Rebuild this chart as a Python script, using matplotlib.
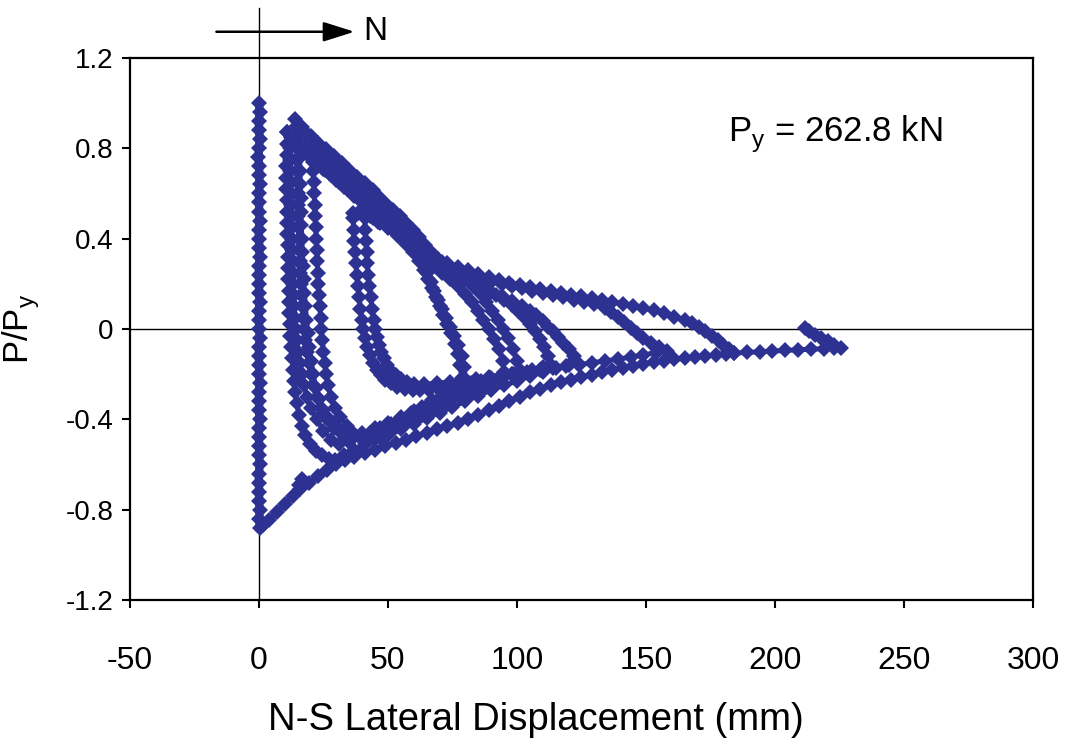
import matplotlib

matplotlib.use("Agg")
import matplotlib.pyplot as plt
from matplotlib import font_manager

# ---- data (displacement in mm, load as P/Py) ----

# elastic column at zero displacement
column_x = [0.0, 0.2, -0.1, 0.1, 0.2, 0.0, -0.2, 0.1, 0.0, 0.2, -0.1, 0.1, 0.0, 0.2, -0.1, 0.0,
            0.1, 0.2, 0.0, -0.1, 0.1, 0.0, 0.2, -0.1, 0.0, 0.1, 0.2, 0.0, -0.1, 0.1, 0.0, 0.2,
            -0.1, 0.1, 0.0, 0.2, 0.0, -0.1, 0.1, 0.0, 0.2, 0.0, -0.1, 0.1, 0.0, 0.2, 0.1, 0.3]
column_y = [1.00, 0.96, 0.92, 0.88, 0.84, 0.80, 0.76, 0.72, 0.68, 0.64, 0.60, 0.56, 0.52, 0.48,
            0.44, 0.40, 0.36, 0.32, 0.28, 0.24, 0.20, 0.16, 0.12, 0.08, 0.04, 0.00, -0.04, -0.08,
            -0.12, -0.16, -0.20, -0.24, -0.28, -0.32, -0.36, -0.40, -0.44, -0.48, -0.52, -0.56,
            -0.60, -0.64, -0.68, -0.72, -0.76, -0.80, -0.84, -0.88]

# first compression (buckling) envelope
lower_env_x = [1.5, 4, 7, 10, 13, 16, 19.5, 23, 26.5, 30, 33.5, 37, 41, 45, 49, 53, 57, 61, 65,
               69, 73, 77, 81, 85, 89, 93, 97, 101, 105, 109, 113, 117, 121, 125, 129, 133, 137,
               141, 145, 149, 153, 157, 161, 165, 169, 173, 177, 181, 184]
lower_env_y = [-0.87, -0.845, -0.81, -0.775, -0.74, -0.71, -0.68, -0.65, -0.625, -0.60, -0.58,
               -0.565, -0.55, -0.535, -0.52, -0.505, -0.49, -0.475, -0.46, -0.445, -0.43, -0.415,
               -0.40, -0.38, -0.36, -0.34, -0.32, -0.30, -0.28, -0.265, -0.25, -0.237, -0.225,
               -0.213, -0.202, -0.19, -0.18, -0.171, -0.163, -0.155, -0.148, -0.141, -0.135,
               -0.13, -0.125, -0.12, -0.116, -0.112, -0.107]

# tension straightening envelope back to the peak
upper_env_x = [182, 180, 178, 175.5, 173, 170.5, 168, 165, 161, 157, 153, 149, 145, 141, 137,
               133, 129, 125, 121, 117, 113, 109, 105, 101, 97, 93, 89, 85, 81, 77, 73, 69.5, 67,
               64.5, 62, 59.5, 57, 54.5, 52, 49, 46, 43, 40, 37, 34, 31, 28, 25, 22, 19, 16.5, 14]
upper_env_y = [-0.09, -0.07, -0.05, -0.03, -0.01, 0.01, 0.025, 0.04, 0.055, 0.07, 0.082, 0.093,
               0.103, 0.112, 0.12, 0.128, 0.136, 0.144, 0.152, 0.16, 0.168, 0.176, 0.185, 0.195,
               0.205, 0.217, 0.23, 0.245, 0.26, 0.275, 0.29, 0.31, 0.335, 0.37, 0.405, 0.44, 0.47,
               0.50, 0.525, 0.555, 0.585, 0.615, 0.645, 0.675, 0.705, 0.735, 0.765, 0.795, 0.825,
               0.86, 0.895, 0.93]

# last excursion
final_x = [184, 189, 194, 199, 204, 209, 214, 219, 223, 225.5, 223, 220.5, 218, 215.5, 213, 211.5]
final_y = [-0.107, -0.104, -0.101, -0.098, -0.095, -0.092, -0.09, -0.087, -0.085, -0.084,
           -0.07, -0.055, -0.04, -0.025, -0.008, 0.004]

# cycle 1
loop1_x = [11.0, 10.8, 10.7, 10.6, 10.6, 10.6, 10.7, 10.8, 10.9, 11.0, 11.1, 11.2, 11.3, 11.4,
           11.5, 11.6, 11.8, 12.0, 12.2, 12.5, 12.8, 13.2, 13.6, 14.1, 14.7, 15.5, 16.6, 18.0,
           19.8, 22.0, 24.5, 27.0, 29.5,
           33, 37, 41, 45, 49, 53, 57, 61, 65, 69, 73, 77, 80,
           79.5, 78.5, 77, 75.5, 74, 72.5, 71, 69.5, 68, 66.5, 65, 63.5, 62, 60, 57.5, 55, 52,
           49, 46, 43, 40, 37, 34, 31, 28, 25, 22, 19, 16, 13, 11]
loop1_y = [0.87, 0.82, 0.77, 0.72, 0.67, 0.62, 0.57, 0.52, 0.47, 0.42, 0.37, 0.32, 0.27, 0.22,
           0.17, 0.12, 0.07, 0.02, -0.03, -0.08, -0.13, -0.18, -0.23, -0.28, -0.33, -0.38, -0.43,
           -0.47, -0.51, -0.54, -0.56, -0.575, -0.58,
           -0.56, -0.535, -0.51, -0.485, -0.46, -0.435, -0.41, -0.385, -0.355, -0.325, -0.29,
           -0.255, -0.22,
           -0.17, -0.12, -0.07, -0.03, 0.01, 0.05, 0.09, 0.13, 0.17, 0.21, 0.25, 0.29, 0.32,
           0.35, 0.38, 0.41, 0.44, 0.47, 0.50, 0.53, 0.56, 0.59, 0.62, 0.65, 0.68, 0.71, 0.74,
           0.77, 0.80, 0.84, 0.87]

# repeat of cycle 1
loop1b_x = [12.3, 12.2, 12.2, 12.2, 12.3, 12.4, 12.5, 12.6, 12.7, 12.8, 12.9, 13.0, 13.1, 13.3,
            13.5, 13.7, 14.0, 14.3, 14.7, 15.2, 15.8, 16.5, 17.4, 18.6, 20.2, 22.3, 25.0, 28.0,
            31.0,
            35, 39, 43, 47, 51, 55, 59, 63, 67, 71, 75, 78.5,
            78, 77, 76, 74.5, 73, 71.5, 70, 68.5, 67, 65.5, 64, 62, 59.5, 57, 54, 51, 48, 45, 42,
            39, 36, 33, 30, 27, 24, 21, 18, 15, 12.3]
loop1b_y = [0.85, 0.80, 0.75, 0.70, 0.65, 0.60, 0.55, 0.50, 0.45, 0.40, 0.35, 0.30, 0.25, 0.20,
            0.15, 0.10, 0.05, 0.0, -0.05, -0.10, -0.15, -0.20, -0.25, -0.30, -0.35, -0.40, -0.45,
            -0.49, -0.51,
            -0.5, -0.48, -0.46, -0.44, -0.42, -0.395, -0.37, -0.345, -0.315, -0.285, -0.25,
            -0.215,
            -0.16, -0.11, -0.065, -0.02, 0.02, 0.06, 0.10, 0.14, 0.18, 0.22, 0.26, 0.30, 0.34,
            0.375, 0.41, 0.445, 0.48, 0.51, 0.54, 0.57, 0.60, 0.63, 0.66, 0.69, 0.72, 0.75,
            0.785, 0.82, 0.85]

# cycle 2
loop2_x = [14.7, 14.6, 14.6, 14.7, 14.8, 14.9, 15.0, 15.1, 15.2, 15.3, 15.4, 15.6, 15.8, 16.0,
           16.2, 16.4, 16.7, 17.0, 17.4, 17.9, 18.5, 19.2, 20.0, 21.0, 22.3, 24.0, 26.2, 29.0,
           32.0, 35.5, 39.0, 42.5,
           46, 50, 54, 58, 62, 66, 70, 74, 78, 82, 86, 90, 94, 98, 101,
           100, 98.5, 96.5, 94.5, 92.5, 90.5, 88, 85.5, 83, 80, 77, 74, 71, 68, 65, 62, 59, 56,
           53, 50, 47, 44, 41, 38, 35, 32, 29, 26, 23, 20, 17, 14.7]
loop2_y = [0.90, 0.85, 0.80, 0.75, 0.70, 0.65, 0.60, 0.55, 0.50, 0.45, 0.40, 0.35, 0.30, 0.25,
           0.20, 0.15, 0.10, 0.05, 0.0, -0.05, -0.10, -0.15, -0.20, -0.25, -0.30, -0.35, -0.40,
           -0.44, -0.465, -0.48, -0.48, -0.475,
           -0.46, -0.44, -0.42, -0.40, -0.38, -0.36, -0.34, -0.32, -0.30, -0.28, -0.26, -0.24,
           -0.22, -0.20, -0.185,
           -0.14, -0.09, -0.04, 0.0, 0.04, 0.08, 0.12, 0.16, 0.19, 0.22, 0.245, 0.27, 0.295,
           0.32, 0.35, 0.39, 0.43, 0.47, 0.51, 0.545, 0.58, 0.615, 0.645, 0.675, 0.705, 0.735,
           0.765, 0.795, 0.825, 0.855, 0.88, 0.90]

# repeat of cycle 2
loop2b_x = [15.8, 15.8, 15.9, 16.0, 16.1, 16.2, 16.4, 16.6, 16.8, 17.0, 17.3, 17.6, 18.0, 18.4,
            18.9, 19.5, 20.2, 21.0, 22.0, 23.3, 25.0, 27.0, 29.5, 32.5, 36.0, 40.0,
            45, 50, 55, 60, 65, 70, 75, 80, 85, 90, 95,
            94.5, 93, 91, 89, 87, 85, 82.5, 80, 77, 74, 71, 68, 65, 62, 59, 56, 53, 50, 47, 44,
            41, 38, 35, 32, 29, 26, 23, 20, 17.5, 15.8]
loop2b_y = [0.82, 0.76, 0.70, 0.64, 0.58, 0.52, 0.46, 0.40, 0.34, 0.28, 0.22, 0.16, 0.10, 0.04,
            -0.02, -0.08, -0.14, -0.20, -0.26, -0.31, -0.36, -0.40, -0.43, -0.45, -0.46, -0.46,
            -0.44, -0.415, -0.39, -0.365, -0.34, -0.315, -0.29, -0.265, -0.24, -0.215, -0.19,
            -0.14, -0.09, -0.045, 0.0, 0.04, 0.08, 0.12, 0.155, 0.19, 0.22, 0.25, 0.28, 0.31,
            0.35, 0.39, 0.43, 0.47, 0.50, 0.53, 0.56, 0.59, 0.62, 0.65, 0.68, 0.71, 0.74, 0.765,
            0.79, 0.81, 0.82]

# cycle 3
loop3_x = [21.0, 21.2, 21.4, 21.6, 21.8, 22.0, 22.2, 22.4, 22.6, 22.8, 23.0, 23.3, 23.6, 23.9,
           24.2, 24.6, 25.0, 25.5, 26.1, 26.8, 27.8, 29.4, 31.5, 34.0, 36.5, 39.5, 43.0, 46.5,
           50.0,
           55, 60, 65, 70, 75, 80, 85, 90, 95, 100, 105, 110, 115, 120, 123.5,
           122, 120, 118, 116, 114, 112, 110, 107.5, 105, 102, 98, 94, 90, 86, 82, 78, 74, 70.5,
           67.5, 64.5, 61.5, 58.5, 55.5, 52.5, 49.5, 46.5, 43.5, 40.5, 37.5, 34.5, 31.5, 28.5,
           25.5, 23, 21]
loop3_y = [0.70, 0.65, 0.60, 0.55, 0.50, 0.45, 0.40, 0.35, 0.30, 0.25, 0.20, 0.15, 0.10, 0.05,
           0.0, -0.05, -0.10, -0.15, -0.20, -0.25, -0.30, -0.35, -0.39, -0.43, -0.46, -0.48,
           -0.485, -0.48, -0.47,
           -0.445, -0.42, -0.395, -0.37, -0.345, -0.32, -0.295, -0.27, -0.25, -0.23, -0.21,
           -0.19, -0.175, -0.16, -0.15,
           -0.12, -0.09, -0.06, -0.035, -0.01, 0.01, 0.035, 0.06, 0.08, 0.10, 0.125, 0.145,
           0.165, 0.185, 0.205, 0.225, 0.25, 0.28, 0.31, 0.34, 0.37, 0.40, 0.43, 0.46, 0.49,
           0.52, 0.55, 0.58, 0.605, 0.63, 0.655, 0.68, 0.705, 0.725, 0.74]

# cycle 4
loop4_x = [36.5, 36.7, 36.9, 37.2, 37.5, 37.9, 38.3, 38.8, 39.3, 39.9, 40.5, 41.2, 42.0, 43.0,
           44.2, 45.6, 47.2, 49.0, 51.0, 53.5, 56.5, 59.5, 62.5,
           66, 70, 74, 78, 82, 86, 90, 94, 98, 102, 106, 110, 113,
           112, 110.5, 109, 107, 105, 103, 100.5, 98, 95, 92, 89, 86, 83, 80, 77, 74, 71, 68,
           65, 62, 59, 56, 53, 50, 47, 44, 41, 38.5, 36.5]
loop4_y = [0.49, 0.44, 0.39, 0.34, 0.29, 0.24, 0.19, 0.14, 0.09, 0.04, 0.0, -0.04, -0.08,
           -0.115, -0.15, -0.18, -0.205, -0.225, -0.24, -0.255, -0.265, -0.27, -0.27,
           -0.27, -0.265, -0.26, -0.25, -0.24, -0.23, -0.22, -0.21, -0.2, -0.19, -0.18, -0.17,
           -0.16,
           -0.12, -0.08, -0.045, -0.01, 0.02, 0.05, 0.08, 0.105, 0.13, 0.15, 0.17, 0.19, 0.21,
           0.23, 0.25, 0.27, 0.29, 0.31, 0.33, 0.355, 0.38, 0.405, 0.43, 0.45, 0.47, 0.49,
           0.505, 0.512, 0.515]

# cycle 5
loop5_x = [41.0, 41.2, 41.4, 41.7, 42.0, 42.4, 42.8, 43.3, 43.8, 44.4, 45.0, 45.7, 46.5, 47.4,
           48.5, 49.8, 51.3, 53.0, 55.0, 57.5, 60.0,
           64, 69, 74, 79, 84, 89, 94, 99, 104, 109, 114, 119, 124, 129, 134, 139, 144, 149,
           154, 158,
           155, 152, 149, 146.5, 144, 141.5, 139, 136.5, 134, 130, 126, 122, 118, 114, 110, 106,
           102, 98, 94, 90, 86, 82, 78, 74, 70, 66, 62, 58, 54, 50, 46, 43, 41]
loop5_y = [0.49, 0.44, 0.39, 0.34, 0.29, 0.24, 0.19, 0.14, 0.09, 0.04, 0.0, -0.035, -0.07,
           -0.10, -0.13, -0.16, -0.185, -0.205, -0.22, -0.235, -0.245,
           -0.245, -0.24, -0.235, -0.23, -0.222, -0.214, -0.206, -0.198, -0.19, -0.182, -0.174,
           -0.166, -0.158, -0.15, -0.142, -0.134, -0.125, -0.115, -0.105, -0.098,
           -0.08, -0.06, -0.04, -0.02, 0.005, 0.03, 0.055, 0.075, 0.095, 0.11, 0.12, 0.13,
           0.14, 0.15, 0.16, 0.17, 0.18, 0.19, 0.2, 0.21, 0.225, 0.24, 0.255, 0.27, 0.29,
           0.315, 0.345, 0.38, 0.415, 0.445, 0.475, 0.5, 0.515]

# small cluster on the envelope
blob_x = [15.5, 16.5]
blob_y = [-0.69, -0.665]

x_ticks = [-50, 0, 50, 100, 150, 200, 250, 300]
y_ticks = [-1.2, -0.8, -0.4, 0, 0.4, 0.8, 1.2]
y_tick_labels = ["-1.2", "-0.8", "-0.4", "0", "0.4", "0.8", "1.2"]

BLUE = "#2d3192"

installed = {f.name for f in font_manager.fontManager.ttflist}
base_font = "Liberation Sans" if "Liberation Sans" in installed else "DejaVu Sans"
plt.rcParams["font.family"] = base_font

fig = plt.figure(figsize=(10.7, 7.42), dpi=100)
ax = fig.add_axes([0.1215, 0.1914, 0.8439, 0.7305])

ax.axhline(0, color="black", lw=1.0, zorder=1)
ax.axvline(0, color="black", lw=1.0, zorder=1)

# the elastic column is packed so tightly it reads as a solid bar
ax.plot(column_x, column_y, color=BLUE, lw=6, marker="D", markersize=8.5,
        markeredgewidth=0, zorder=3)

paths = [
    (lower_env_x, lower_env_y),
    (upper_env_x, upper_env_y),
    (final_x, final_y),
    (loop1_x, loop1_y),
    (loop1b_x, loop1b_y),
    (loop2_x, loop2_y),
    (loop2b_x, loop2b_y),
    (loop3_x, loop3_y),
    (loop4_x, loop4_y),
    (loop5_x, loop5_y),
    (blob_x, blob_y),
]
for xs, ys in paths:
    ax.plot(xs, ys, color=BLUE, lw=3.6, marker="D", markersize=8,
            markeredgewidth=0, zorder=3)

ax.set_xlim(-50, 300)
ax.set_ylim(-1.2, 1.2)
ax.set_xticks(x_ticks)
ax.set_xticklabels([str(v) for v in x_ticks], fontsize=23)
ax.set_yticks(y_ticks)
ax.set_yticklabels(y_tick_labels, fontsize=20)
ax.tick_params(axis="both", direction="out", length=6, width=1.5, color="black")
ax.tick_params(axis="x", pad=27)
ax.tick_params(axis="y", pad=6)
for side in ["top", "right", "bottom", "left"]:
    ax.spines[side].set_linewidth(1.6)

ax.set_xlabel("N-S Lateral Displacement (mm)", fontsize=27.5)
ax.xaxis.set_label_coords(0.45, -0.188)
ax.set_ylabel("P/P$_\\mathregular{y}$", fontsize=25)
ax.yaxis.set_label_coords(-0.098, 0.5)

ax.text(223.5, 0.86, "P$_\\mathregular{y}$ = 262.8 kN", fontsize=25, ha="center", va="center")

# north arrow above the plot and the zero line poking out of the frame
ax.plot([0, 0], [1.2, 1.42], color="black", lw=1.0, clip_on=False)
ax.annotate("", xy=(37, 1.316), xytext=(-16.5, 1.316), annotation_clip=False,
            arrowprops=dict(arrowstyle="-|>,head_length=1.9,head_width=0.6",
                            color="black", lw=1.8, shrinkA=0, shrinkB=0))
ax.text(45, 1.316, "N", fontsize=24, ha="center", va="center", clip_on=False)

fig.savefig("out.png", dpi=100)
